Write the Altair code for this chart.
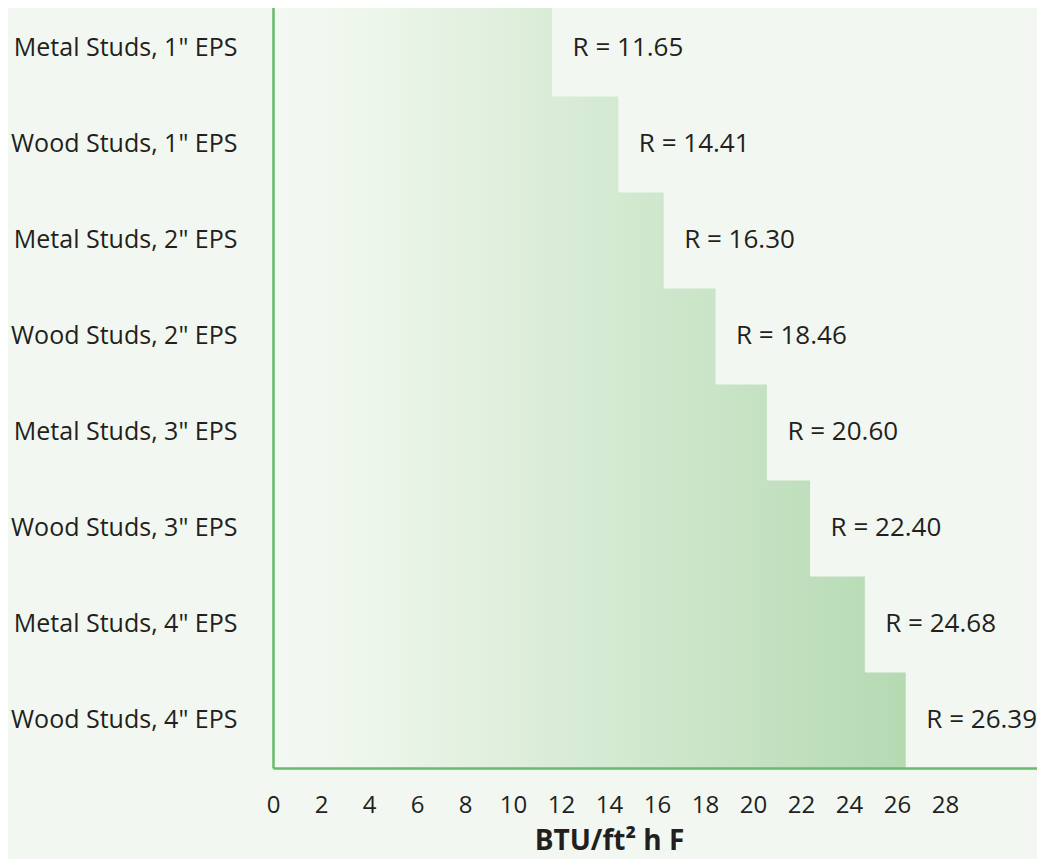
import altair as alt
import pandas as pd

categories = [
    'Metal Studs, 1" EPS',
    'Wood Studs, 1" EPS',
    'Metal Studs, 2" EPS',
    'Wood Studs, 2" EPS',
    'Metal Studs, 3" EPS',
    'Wood Studs, 3" EPS',
    'Metal Studs, 4" EPS',
    'Wood Studs, 4" EPS',
]
r_values = [11.65, 14.41, 16.30, 18.46, 20.60, 22.40, 24.68, 26.39]
tick_values = [0, 2, 4, 6, 8, 10, 12, 14, 16, 18, 20, 22, 24, 26, 28]
x_title = "BTU/ft² h F"

df = pd.DataFrame({"label": categories, "r": r_values})

BG = "#f2f8f1"
GREEN = "#66bb6a"
TEXT = "#231f20"
FONT = "Open Sans"

W = 764
H = 768
XMAX = W / 24.0

xscale = alt.Scale(domain=[0, XMAX], nice=False, zero=True)
xaxis = alt.Axis(
    title=x_title,
    values=tick_values,
    ticks=False,
    tickSize=0,
    grid=False,
    domainColor=GREEN,
    domainWidth=2.5,
    labelFont=FONT,
    labelFontSize=24,
    labelColor=TEXT,
    labelPadding=25,
    labelFlush=False,
    titleFont=FONT,
    titleFontSize=28,
    titleFontWeight="bold",
    titleColor=TEXT,
    titleX=14 * 24,
    titleY=81,
    titleAlign="center",
    titleBaseline="alphabetic",
    zindex=2,
)
yaxis = alt.Axis(
    title=None,
    ticks=False,
    tickSize=0,
    grid=False,
    domainColor=GREEN,
    domainWidth=2.5,
    labelFont=FONT,
    labelFontSize=25,
    labelColor=TEXT,
    labelPadding=36,
    labelLimit=400,
    zindex=2,
)
yscale = alt.Scale(paddingInner=0, paddingOuter=0)

base = alt.Chart(df).transform_joinaggregate(
    rmax="max(r)"
).transform_calculate(
    text="'R = ' + format(datum.r, '.2f')"
)

y_enc = alt.Y("label:N", sort=categories, scale=yscale, axis=yaxis)

grad = alt.Gradient(
    gradient="linear",
    stops=[
        alt.GradientStop(color="#f3f9f2", offset=0),
        alt.GradientStop(color="#eff7ed", offset=0.12),
        alt.GradientStop(color="#b5dab2", offset=1),
    ],
    x1=0, x2=1, y1=0, y2=0,
)

full = base.mark_bar(color=grad, stroke=grad, strokeWidth=1).encode(
    x=alt.X("rmax:Q", scale=xscale, axis=xaxis),
    y=y_enc,
)
cover = base.mark_bar(color=BG, stroke=BG, strokeWidth=1).encode(
    x=alt.X("r:Q", scale=xscale, axis=xaxis),
    x2="rmax:Q",
    y=y_enc,
)
labels = base.mark_text(
    align="left", baseline="middle", dx=20, font=FONT, fontSize=26, color=TEXT
).encode(
    x=alt.X("r:Q", scale=xscale, axis=xaxis),
    y=y_enc,
    text="text:N",
)

chart = alt.layer(full, cover, labels).properties(
    width=W,
    height=H,
    background=BG,
    autosize=alt.AutoSizeParams(type="none"),
    padding={"left": 265, "top": -8, "right": 0, "bottom": 91},
).configure_view(stroke=None)

chart.save("out.html", embed_options={"renderer": "svg", "actions": False})
